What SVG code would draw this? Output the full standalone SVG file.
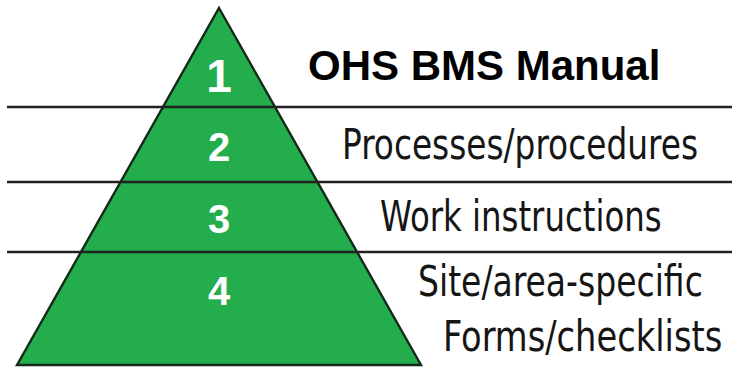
<svg xmlns="http://www.w3.org/2000/svg" width="740" height="375" viewBox="0 0 740 375">
<style>
.tier{fill:#23ad4d;stroke:none}
.edge{fill:none;stroke:#132a18;stroke-width:2.4;stroke-linejoin:miter}
.num{font-family:"Liberation Sans",Arial,sans-serif;font-weight:bold;fill:#ffffff;text-anchor:middle}
.lbl{font-family:"Liberation Sans Narrow","DejaVu Sans Condensed","Liberation Sans",sans-serif;font-size:43px;fill:#151515}
.rule{stroke:#222222;stroke-width:2.6;fill:none}
.title{font-family:"Liberation Sans",Arial,sans-serif;font-weight:bold;font-size:42px;fill:#000000}
</style>
<rect width="740" height="375" fill="#ffffff"/>
<g id="tier1">
<polygon class="tier" points="219,8 275,107 163,107"/>
<text class="num" x="219" y="92" font-size="46">1</text>
</g>
<g id="tier2">
<polygon class="tier" points="163,107 275,107 317.5,182 120.5,182"/>
<text class="num" x="219" y="161" font-size="40">2</text>
</g>
<g id="tier3">
<polygon class="tier" points="120.5,182 317.5,182 357,252 81,252"/>
<text class="num" x="219" y="233" font-size="40">3</text>
</g>
<g id="tier4">
<polygon class="tier" points="81,252 357,252 421,365 17,365"/>
<text class="num" x="219" y="305" font-size="40">4</text>
</g>
<g id="connectors">
<polygon class="edge" points="219,8 421,365 17,365"/>
<line class="rule" x1="7" y1="107" x2="732" y2="107"/>
<line class="rule" x1="7" y1="182" x2="732" y2="182"/>
<line class="rule" x1="7" y1="252" x2="732" y2="252"/>
</g>
<g id="title">
<text class="title" x="308" y="80">OHS BMS Manual</text>
</g>
<g id="labels">
<text class="lbl" transform="translate(342,159) scale(0.8,1)" textLength="445" lengthAdjust="spacingAndGlyphs">Processes/procedures</text>
<text class="lbl" transform="translate(380,231) scale(0.8,1)" textLength="352" lengthAdjust="spacingAndGlyphs">Work instructions</text>
<text class="lbl" transform="translate(418,296) scale(0.8,1)" textLength="356" lengthAdjust="spacingAndGlyphs">Site/area-specific</text>
<text class="lbl" transform="translate(443,351) scale(0.8,1)" textLength="349" lengthAdjust="spacingAndGlyphs">Forms/checklists</text>
</g>
</svg>
